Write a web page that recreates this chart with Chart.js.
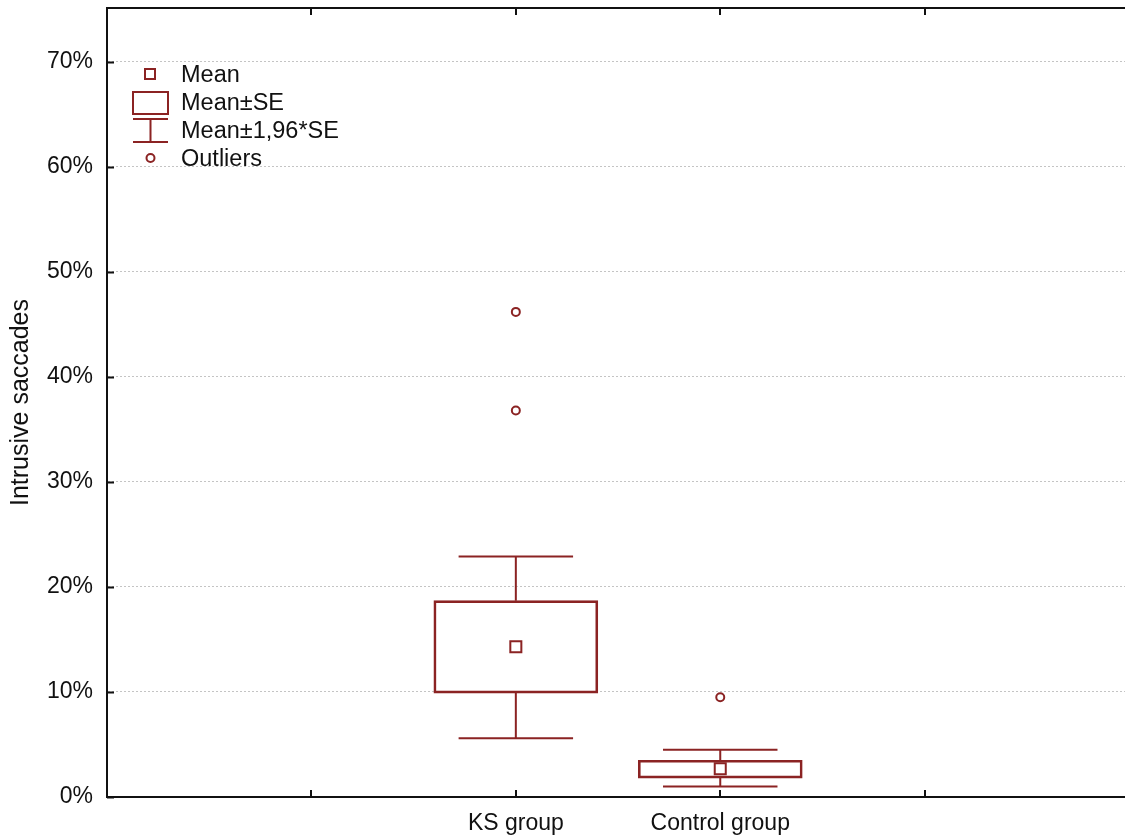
<!DOCTYPE html>
<html>
<head>
<meta charset="utf-8">
<script src="https://cdn.jsdelivr.net/npm/chart.js@4.4.1/dist/chart.umd.min.js"></script>
<style>
body { margin: 0; background: #fff; }
#wrap { position: relative; width: 1125px; height: 836px; }
#legend { position: absolute; left: 128px; top: 60px; font: 23.5px "Liberation Sans", Arial, sans-serif; color: #111; }
#legend .row { position: relative; height: 28px; line-height: 28px; padding-left: 53px; white-space: nowrap; }
#legend svg { position: absolute; left: 0; top: 0; }
</style>
</head>
<body>
<div id="wrap">
<canvas id="boxChart" width="1125" height="836"></canvas>
<div id="legend"></div>
</div>
<script>
// groups and their statistics (percent)
var groups = ["KS group", "Control group"];
var groupPos = [2, 3];
var means = [14.3, 2.7];
var seLow = [9.9, 1.8];
var seHigh = [18.7, 3.5];
var ciLow = [5.6, 1.0];
var ciHigh = [22.9, 4.5];
var outliers = [[46.2, 36.8], [9.5]];
var yTicks = [0, 10, 20, 30, 40, 50, 60, 70];

var red = "#8b2323";
var capHalf = 0.28;

var boxData = [], meanData = [], outData = [], whiskerData = [];
for (var i = 0; i < groups.length; i++) {
  var x = groupPos[i];
  boxData.push({x: x, y: [seLow[i], seHigh[i]]});
  meanData.push({x: x, y: means[i]});
  outliers[i].forEach(function(v){ outData.push({x: x, y: v}); });
  whiskerData.push({x: x, y: seHigh[i]}, {x: x, y: ciHigh[i]}, {x: x, y: null});
  whiskerData.push({x: x - capHalf, y: ciHigh[i]}, {x: x + capHalf, y: ciHigh[i]}, {x: x, y: null});
  whiskerData.push({x: x, y: seLow[i]}, {x: x, y: ciLow[i]}, {x: x, y: null});
  whiskerData.push({x: x - capHalf, y: ciLow[i]}, {x: x + capHalf, y: ciLow[i]}, {x: x, y: null});
}

//frame top line and inward tick marks
var framePlugin = {
  id: "frame",
  afterDraw: function(chart) {
    var ctx = chart.ctx, a = chart.chartArea;
    var xs = chart.scales.x, ys = chart.scales.y;
    ctx.save();
    ctx.strokeStyle = "#111";
    ctx.lineWidth = 2;
    ctx.beginPath();
    ctx.moveTo(a.left - 1, a.top);
    ctx.lineTo(a.right, a.top);
    [1, 2, 3, 4].forEach(function(v){
      var px = Math.round(xs.getPixelForValue(v));
      ctx.moveTo(px, a.top); ctx.lineTo(px, a.top + 7);
      ctx.moveTo(px, a.bottom); ctx.lineTo(px, a.bottom - 7);
    });
    yTicks.forEach(function(v){
      var py = Math.round(ys.getPixelForValue(v)) + 0.5;
      ctx.moveTo(a.left, py); ctx.lineTo(a.left + 7, py);
    });
    ctx.stroke();
    ctx.restore();
  }
};

var font = {family: "'Liberation Sans', Arial, sans-serif", size: 23};

var chrt = document.getElementById("boxChart").getContext("2d");
var myChart = new Chart(chrt, {
  type: "bar",
  data: {
    datasets: [{
      type: "line",
      data: whiskerData,
      borderColor: red,
      borderWidth: 2,
      pointRadius: 0,
      spanGaps: false,
      fill: false
    }, {
      type: "bar",
      data: boxData,
      backgroundColor: "rgba(255,255,255,0)",
      borderColor: red,
      borderWidth: 2,
      borderSkipped: false,
      barThickness: 164
    }, {
      type: "scatter",
      data: meanData,
      pointStyle: "rect",
      pointRadius: 7.8,
      pointBorderWidth: 2,
      pointBackgroundColor: "#fff",
      pointBorderColor: red
    }, {
      type: "scatter",
      data: outData,
      pointStyle: "circle",
      pointRadius: 4,
      pointBorderWidth: 2,
      pointBackgroundColor: "#fff",
      pointBorderColor: red
    }]
  },
  options: {
    responsive: false,
    animation: false,
    devicePixelRatio: 1,
    layout: { autoPadding: false, padding: { top: 8, right: 0, left: 0, bottom: 0 } },
    plugins: { legend: { display: false }, tooltip: { enabled: false } },
    scales: {
      x: {
        type: "linear",
        offset: false,
        min: 0,
        max: 4.98,
        afterBuildTicks: function(axis){
          axis.ticks = groupPos.map(function(v){ return {value: v}; });
        },
        afterFit: function(axis){
          axis.height = 39;
          axis.paddingLeft = 0;
          axis.paddingRight = 0;
        },
        ticks: {
          font: font,
          color: "#111",
          padding: 13,
          maxRotation: 0,
          callback: function(value){
            var k = groupPos.indexOf(value);
            return k >= 0 ? groups[k] : "";
          }
        },
        grid: { display: false, drawTicks: false },
        border: { display: true, color: "#111", width: 2 }
      },
      y: {
        min: 0,
        max: 75.14,
        afterBuildTicks: function(axis){
          axis.ticks = yTicks.map(function(v){ return {value: v}; });
        },
        afterFit: function(axis){
          axis.width = 107;
          axis.paddingTop = 0;
          axis.paddingBottom = 0;
        },
        ticks: {
          font: font,
          color: "#111",
          padding: 14,
          callback: function(value){ return value + "%"; }
        },
        grid: { color: "#c4c4c4", lineWidth: 1, drawTicks: false },
        border: { display: true, color: "#111", width: 2, dash: [2, 2] },
        title: {
          display: true,
          text: "Intrusive saccades",
          font: {family: "'Liberation Sans', Arial, sans-serif", size: 25},
          color: "#111",
          padding: { top: 6, bottom: 0 }
        }
      }
    }
  },
  plugins: [framePlugin]
});

// legend glyphs
var legendItems = [
  { label: "Mean", svg: '<rect x="17" y="9" width="10" height="10" fill="#fff" stroke="' + red + '" stroke-width="2"/>' },
  { label: "Mean±SE", svg: '<rect x="5" y="4" width="35" height="22" fill="#fff" stroke="' + red + '" stroke-width="2"/>' },
  { label: "Mean±1,96*SE", svg: '<path d="M5 3 H40 M22.5 3 V26 M5 26 H40" fill="none" stroke="' + red + '" stroke-width="2"/>' },
  { label: "Outliers", svg: '<circle cx="22.5" cy="14" r="4" fill="#fff" stroke="' + red + '" stroke-width="2"/>' }
];
var legendDiv = document.getElementById("legend");
legendItems.forEach(function(it){
  var row = document.createElement("div");
  row.className = "row";
  row.innerHTML = '<svg width="46" height="30">' + it.svg + '</svg>' + it.label;
  legendDiv.appendChild(row);
});
</script>
</body>
</html>
